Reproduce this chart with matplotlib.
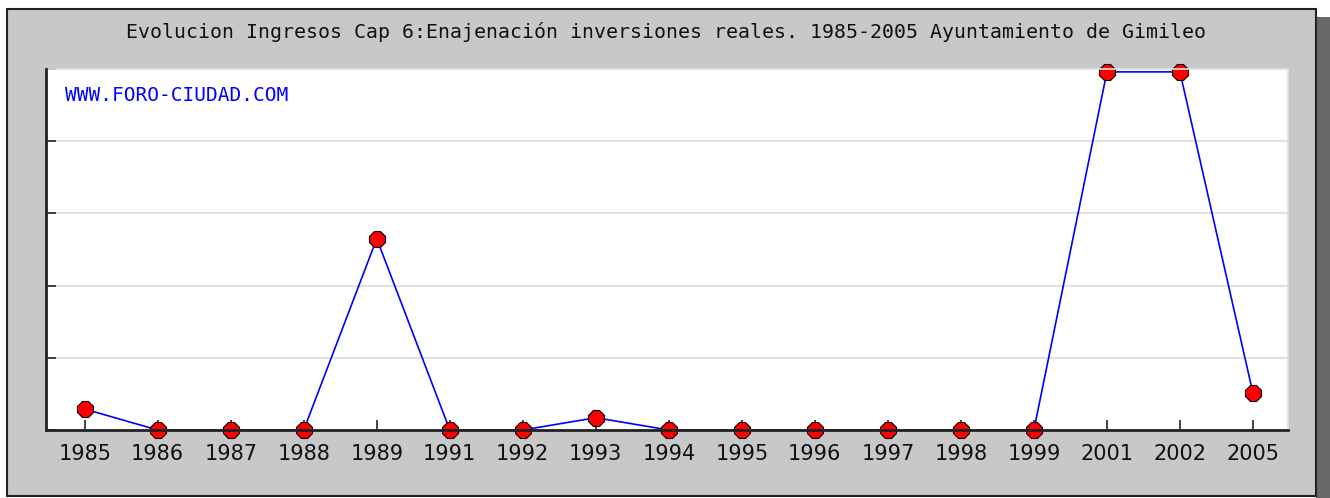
import matplotlib.pyplot as plt
from matplotlib.patches import Rectangle

# Data (y axis has no labels, units are relative)
years = ['1985', '1986', '1987', '1988', '1989', '1991', '1992', '1993', '1994',
         '1995', '1996', '1997', '1998', '1999', '2001', '2002', '2005']
values = [0.29, 0, 0, 0, 2.65, 0, 0, 0.17, 0, 0, 0, 0, 0, 0, 4.96, 4.96, 0.51]
y_ticks = [0, 1, 2, 3, 4, 5]

W, H = 1330, 498
fig = plt.figure(figsize=(W / 100, H / 100), dpi=100)
fig.patch.set_facecolor('white')

# Drop shadow and grey panel
fig.patches.append(Rectangle((1316 / W, 0), 14 / W, 1 - 17 / H, transform=fig.transFigure,
                             facecolor='#686868', edgecolor='none', zorder=0))
fig.patches.append(Rectangle((7 / W, 1 - 496 / H), 1309 / W, 487 / H, transform=fig.transFigure,
                             facecolor='#c8c8c8', edgecolor='#222222', linewidth=1.5, zorder=1))

ax = fig.add_axes([46 / W, 1 - 430 / H, 1242 / W, 361 / H])
ax.set_facecolor('white')
ax.set_zorder(2)

x = list(range(len(years)))
ax.plot(x, values, color='#0000ff', linewidth=1.2, marker='8', markersize=12,
        markerfacecolor='#ff0000', markeredgecolor='#000000', markeredgewidth=0.8,
        clip_on=False, zorder=2)

ax.set_xlim(-0.53, len(years) - 1 + 0.48)
ax.set_ylim(0, 5)
ax.set_xticks(x)
ax.set_xticklabels(years, fontsize=15, family='DejaVu Sans', color='#111111')
ax.set_yticks(y_ticks)
ax.set_yticklabels([])
ax.tick_params(axis='both', direction='in', length=7.5, width=1.2, color='#222222', pad=10)
ax.grid(axis='y', color='#dcdcdc', linewidth=1.2, zorder=0)

for side in ['top', 'right']:
    ax.spines[side].set_color('#e2e2e2')
    ax.spines[side].set_linewidth(1.2)
for side in ['left', 'bottom']:
    ax.spines[side].set_color('#222222')
    ax.spines[side].set_linewidth(2)
    ax.spines[side].set_zorder(3)

ax.text(19 / 1242, 1 - 26 / 361, 'WWW.FORO-CIUDAD.COM', transform=ax.transAxes,
        fontsize=14, family='DejaVu Sans Mono', color='#0000ff', va='center', ha='left')

fig.text(666 / W, 1 - 32 / H,
         'Evolucion Ingresos Cap 6:Enajenación inversiones reales. 1985-2005 Ayuntamiento de Gimileo',
         fontsize=14.3, family='DejaVu Sans Mono', color='#111111', ha='center', va='center', zorder=3)

fig.savefig('out.png', dpi=100)
